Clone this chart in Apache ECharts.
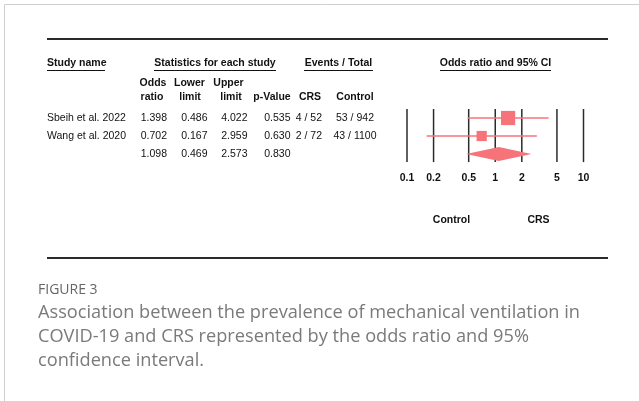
<!DOCTYPE html>
<html><head><meta charset="utf-8">
<script src="https://cdn.jsdelivr.net/npm/echarts@6/dist/echarts.min.js"></script>
<style>html,body{margin:0;padding:0;background:#fff}#c{width:639px;height:401px}</style>
</head><body><div id="c"></div>
<script>
// ---- data ----
const studies = ['Sbeih et al. 2022', 'Wang et al. 2020'];
const oddsRatio = [1.398, 0.702, 1.098];
const lowerLimit = [0.486, 0.167, 0.469];
const upperLimit = [4.022, 2.959, 2.573];
const pValue = ['0.535', '0.630', '0.830'];
const eventsCRS = ['4 / 52', '2 / 72'];
const eventsControl = ['53 / 942', '43 / 1100'];
const weights = [66, 34]; // relative study weights (square area)
const tickValues = [0.1, 0.2, 0.5, 1, 2, 5, 10];
const tickLabels = ['0.1', '0.2', '0.5', '1', '2', '5', '10'];
const captionTitle = 'FIGURE 3';
const captionLines = [
  'Association between the prevalence of mechanical ventilation in',
  'COVID-19 and CRS represented by the odds ratio and 95%',
  'confidence interval.'
];

// ---- styles ----
const SALMON = '#f7737a';
const AX = '#2b2b2b';
const TF = 'Liberation Sans, Arial, sans-serif';
const fontReg = '10.5px ' + TF;
const fontBold = 'bold 10.5px ' + TF;
const CF = '"Open Sans", Lato, sans-serif';

const chart = echarts.init(document.getElementById('c'), null, {renderer: 'canvas'});

const studyData = studies.map((s, i) => [i, oddsRatio[i], lowerLimit[i], upperLimit[i], weights[i]]);
const summaryIdx = studies.length;
const tableData = oddsRatio.map((v, i) => [i]);

function txt(text, x, y, align, font, fill) {
  return {type: 'text', style: {text: text, x: x, y: y, align: align || 'left', verticalAlign: 'middle', font: font || fontReg, fill: fill || '#111'}};
}

function hline(x1, x2, y, w, c) {
  return {type: 'line', shape: {x1: x1, y1: y, x2: x2, y2: y}, style: {stroke: c || '#111', lineWidth: w || 1}};
}

const graphics = [
  // frame
  {type: 'line', shape: {x1: 4.5, y1: 4.5, x2: 639, y2: 4.5}, style: {stroke: '#cfcfcf', lineWidth: 1}},
  {type: 'line', shape: {x1: 4.5, y1: 4.5, x2: 4.5, y2: 401}, style: {stroke: '#cfcfcf', lineWidth: 1}},
  // rules
  hline(47, 608, 39, 2, '#2a2a2a'),
  hline(47, 608, 258, 2, '#2a2a2a'),
  // headers
  txt('Study name', 47, 63, 'left', fontBold),
  hline(47, 105, 70.5, 1),
  txt('Statistics for each study', 215, 63, 'center', fontBold),
  hline(154, 276, 70.5, 1),
  txt('Events / Total', 338.5, 63, 'center', fontBold),
  hline(304, 373, 70.5, 1),
  txt('Odds ratio and 95% CI', 495.5, 63, 'center', fontBold),
  hline(440, 551, 70.5, 1),
  txt('Odds', 153, 83, 'center', fontBold),
  txt('Lower', 189.5, 83, 'center', fontBold),
  txt('Upper', 228.5, 83, 'center', fontBold),
  txt('ratio', 152, 97, 'center', fontBold),
  txt('limit', 190, 97, 'center', fontBold),
  txt('limit', 231, 97, 'center', fontBold),
  txt('p-Value', 272, 97, 'center', fontBold),
  txt('CRS', 310, 97, 'center', fontBold),
  txt('Control', 355, 97, 'center', fontBold),
  txt('Control', 451.5, 220, 'center', fontBold),
  txt('CRS', 538.5, 220, 'center', fontBold),
  // caption
  txt(captionTitle, 38, 290, 'left', '14px ' + CF, '#666'),
].concat(captionLines.map((l, i) => txt(l, 38, 313 + i * 24, 'left', '18.2px ' + CF, '#7a7a7a')));

const option = {
  animation: false,
  backgroundColor: '#fff',
  grid: {left: 407, width: 176.5, top: 109, height: 54},
  xAxis: {type: 'log', logBase: 10, min: 0.1, max: 10, show: false},
  yAxis: {type: 'value', min: -0.5, max: 2.5, inverse: true, show: false},
  graphic: graphics,
  series: [
    {
      type: 'custom', name: 'ticks', silent: true, clip: false,
      data: tickValues.map((v, i) => [v, i]),
      renderItem: function (params, api) {
        const x = api.coord([api.value(0), 0])[0];
        const top = api.coord([1, -0.5])[1];
        const bot = api.coord([1, 2.45])[1];
        return {type: 'group', children: [
          {type: 'line', shape: {x1: x, y1: top, x2: x, y2: bot}, style: {stroke: AX, lineWidth: 1.5}},
          {type: 'text', style: {text: tickLabels[api.value(1)], x: x, y: bot + 16, align: 'center', verticalAlign: 'middle', font: fontBold, fill: '#111'}}
        ]};
      }
    },
    {
      type: 'custom', name: 'studies', silent: true, clip: false, z: 3,
      data: studyData,
      renderItem: function (params, api) {
        const row = api.value(0);
        const c = api.coord([api.value(1), row]);
        const lo = api.coord([api.value(2), row]);
        const hi = api.coord([api.value(3), row]);
        const s = Math.sqrt(api.value(4)) * 1.75;
        return {type: 'group', children: [
          {type: 'line', shape: {x1: lo[0], y1: c[1], x2: hi[0], y2: c[1]}, style: {stroke: SALMON, lineWidth: 1.5}},
          {type: 'rect', shape: {x: c[0] - s / 2, y: c[1] - s / 2, width: s, height: s}, style: {fill: SALMON}}
        ]};
      }
    },
    {
      type: 'custom', name: 'summary', silent: true, clip: false, z: 3,
      data: [[summaryIdx, oddsRatio[summaryIdx], lowerLimit[summaryIdx], upperLimit[summaryIdx]]],
      renderItem: function (params, api) {
        const row = api.value(0);
        const c = api.coord([api.value(1), row]);
        const lo = api.coord([api.value(2), row]);
        const hi = api.coord([api.value(3), row]);
        const h = 7;
        return {type: 'polygon', shape: {points: [[lo[0], c[1]], [c[0], c[1] - h], [hi[0], c[1]], [c[0], c[1] + h]]}, style: {fill: SALMON}};
      }
    },
    {
      type: 'custom', name: 'table', silent: true, clip: false,
      data: tableData,
      renderItem: function (params, api) {
        const i = api.value(0);
        const y = api.coord([1, i])[1];
        const kids = [];
        if (i < studies.length) kids.push(txt(studies[i], 47, y, 'left'));
        kids.push(txt(oddsRatio[i].toFixed(3), 167, y, 'right'));
        kids.push(txt(lowerLimit[i].toFixed(3), 207.5, y, 'right'));
        kids.push(txt(upperLimit[i].toFixed(3), 247.5, y, 'right'));
        kids.push(txt(pValue[i], 290.5, y, 'right'));
        if (i < studies.length) {
          kids.push(txt(eventsCRS[i], 322, y, 'right'));
          kids.push(txt(eventsControl[i], 355, y, 'center'));
        }
        return {type: 'group', children: kids};
      }
    }
  ]
};
chart.setOption(option);
</script>
</body></html>
